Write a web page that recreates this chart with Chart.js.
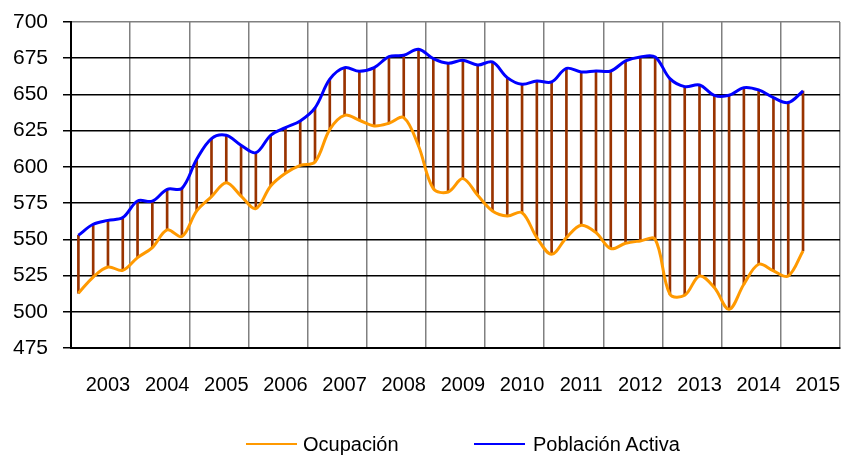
<!DOCTYPE html>
<html>
<head>
<meta charset="utf-8">
<script src="https://cdn.jsdelivr.net/npm/chart.js@4"></script>
<style>
body{margin:0;background:#fff;font-family:"Liberation Sans",Arial,sans-serif}
#wrap{position:relative;width:845px;height:455px}
.ley{position:absolute;font-size:20px;line-height:20px;color:#000;white-space:nowrap}
.raya{position:absolute;height:2px;width:51px}
</style>
</head>
<body>
<div id="wrap">
<canvas id="grafico" width="845" height="455"></canvas>
<!-- leyenda a mano, la de chart.js no deja separar los elementos asi -->
<div class="raya" style="left:246px;top:443px;background:#ff9900"></div>
<div class="ley" style="left:303px;top:434px">Ocupación</div>
<div class="raya" style="left:474px;top:443px;background:#0000ff"></div>
<div class="ley" style="left:533px;top:434px">Población Activa</div>
</div>
<script>
// años del eje x (una etiqueta por año, en el 3er trimestre)
var years = ["2003","2004","2005","2006","2007","2008","2009","2010","2011","2012","2013","2014","2015"];
var quarters = ["T1","T2","T3","T4"];

// miles de personas, trimestral 2003T1 - 2015T2
var ocupacion = [512.8, 524.0, 530.9, 528.6, 537.4, 544.3, 556.5, 551.9, 569.6, 579.5,
	589.1, 579.9, 571.2, 586.8, 595.6, 601.1, 603.4, 625.9, 635.6, 632.2,
	628.3, 630.1, 634.0, 614.4, 585.0, 582.7, 591.9, 580.4, 569.6, 566.1,
	568.4, 551.2, 539.7, 551.2, 559.7, 554.6, 543.6, 547.3, 548.9, 550.0,
	512.1, 511.4, 524.7, 516.7, 501.7, 519.0, 532.8, 528.2, 524.7, 542.0];
var activa = [552.8, 560.4, 563.1, 565.0, 576.5, 576.3, 584.5, 585.2, 605.2, 619.5,
	621.8, 614.9, 609.8, 621.8, 627.1, 631.7, 640.7, 660.5, 668.5, 666.0,
	668.5, 676.1, 677.0, 681.2, 674.7, 671.5, 673.6, 670.3, 672.4, 661.6,
	657.0, 659.3, 658.6, 668.0, 665.5, 666.2, 666.2, 673.1, 675.9, 675.9,
	660.9, 655.4, 656.5, 649.4, 649.4, 654.7, 653.1, 647.8, 644.4, 652.4];

//categorias: un hueco por trimestre
var labels = [];
for (var i = 0; i < years.length; i++) {
	for (var q = 0; q < quarters.length; q++) {
		labels.push(years[i] + quarters[q]);
	}
}

//lineas verticales entre las dos series (barras flotantes finas)
var diferencia = [];
for (var i = 0; i < ocupacion.length; i++) {
	diferencia.push([ocupacion[i], activa[i]]);
}

var ctx = document.getElementById("grafico");
var chart = new Chart(ctx, {
	type: "line",
	data: {
		labels: labels,
		datasets: [
			{
				label: "Ocupación",
				data: ocupacion,
				borderColor: "#ff9900",
				backgroundColor: "#ff9900",
				borderWidth: 3,
				pointRadius: 0,
				tension: 0.35,
				fill: false,
				order: 0
			},
			{
				label: "Población Activa",
				data: activa,
				borderColor: "#0000ff",
				backgroundColor: "#0000ff",
				borderWidth: 3,
				pointRadius: 0,
				tension: 0.35,
				fill: false,
				order: 0
			},
			{
				type: "bar",
				label: "dif",
				data: diferencia,
				backgroundColor: "#993300",
				borderWidth: 0,
				barThickness: 2,
				order: 1
			}
		]
	},
	options: {
		responsive: false,
		animation: false,
		devicePixelRatio: 1,
		layout: { padding: { top: 22, right: 5, left: 0, bottom: 0 } },
		plugins: {
			legend: { display: false },
			tooltip: { enabled: false }
		},
		scales: {
			x: {
				offset: true,
				grid: {
					offset: true,
					drawTicks: false,
					tickLength: 0,
					lineWidth: 1.5,
					color: function (c) {
						if (c.index === undefined || c.index % 4 === 0) return "#808080";
						return "rgba(0,0,0,0)";
					}
				},
				border: { display: true, color: "#000", width: 2 },
				ticks: {
					autoSkip: false,
					maxRotation: 0,
					minRotation: 0,
					padding: 25,
					color: "#000",
					font: { family: "'Liberation Sans', Arial, sans-serif", size: 20 },
					callback: function (value, index) {
						return index % 4 === 2 ? years[index >> 2] : "";
					}
				},
				//el padding de las etiquetas no debe comer area del grafico
				afterFit: function (s) { s.height = 107; s.paddingLeft = 0; s.paddingRight = 0; }
			},
			y: {
				min: 475,
				max: 700,
				ticks: {
					stepSize: 25,
					padding: 15,
					color: "#000",
					font: { family: "'Liberation Sans', Arial, sans-serif", size: 21 }
				},
				grid: {
					lineWidth: 1.5,
					tickLength: 8,
					tickColor: "#000",
					color: function (c) {
						return (c.tick && c.tick.value === 700) ? "#808080" : "#000";
					}
				},
				border: { display: true, color: "#000", width: 2 },
				afterFit: function (s) { s.width = 71; s.paddingTop = 0; s.paddingBottom = 0; }
			}
		}
	}
});
</script>
</body>
</html>
